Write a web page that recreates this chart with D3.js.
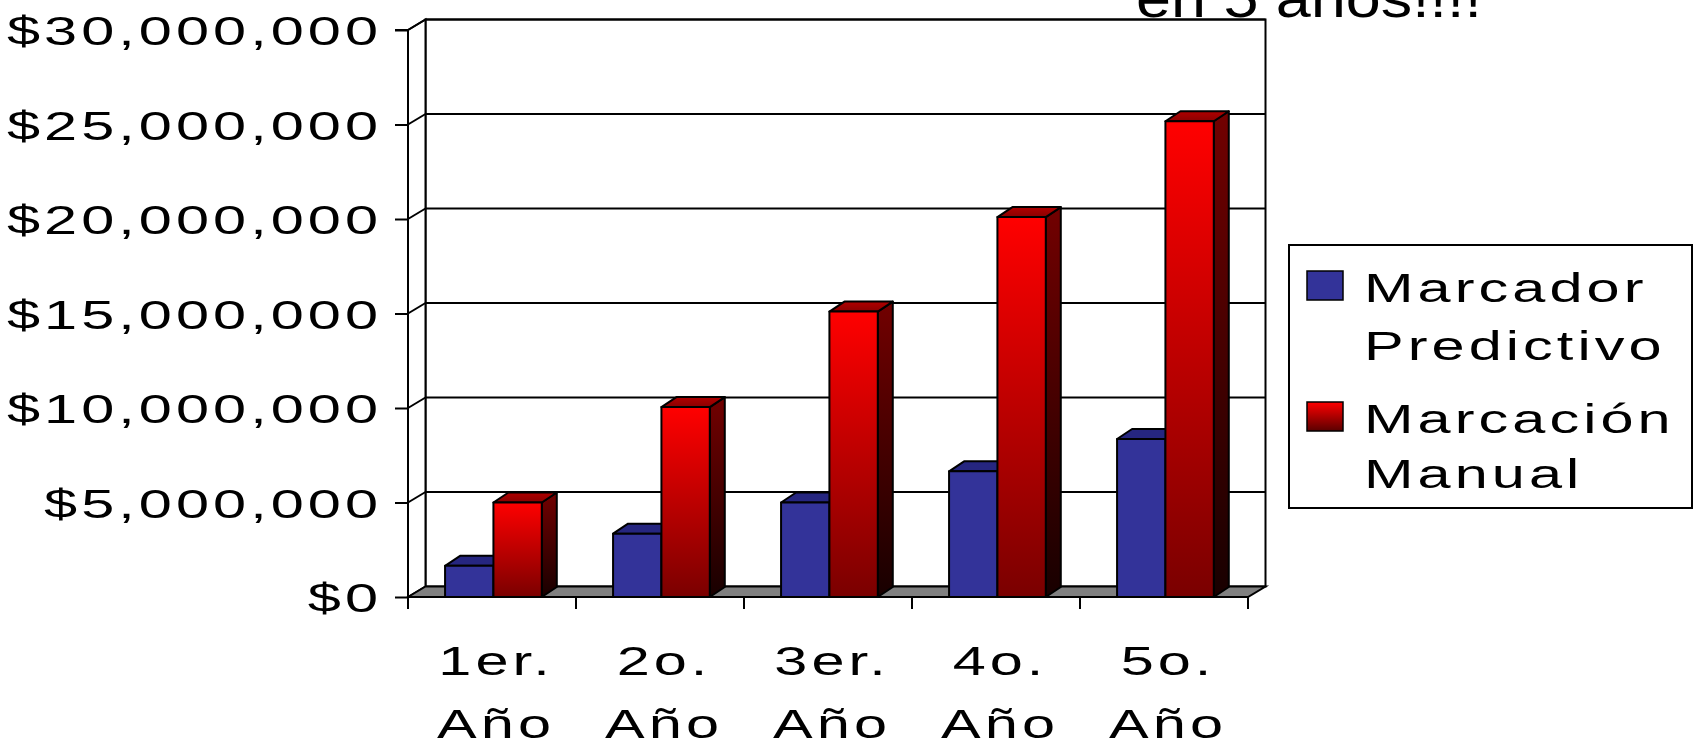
<!DOCTYPE html>
<html><head><meta charset="utf-8">
<script src="https://cdn.jsdelivr.net/npm/d3@7"></script>
<style>body{margin:0;background:#fff;overflow:hidden}svg{display:block}</style>
</head><body><svg id="c" width="1696" height="749"></svg>
<script>
// ---- data ----
const categories = ["1er. Año", "2o. Año", "3er. Año", "4o. Año", "5o. Año"];
const seriesNames = ["Marcador Predictivo", "Marcación Manual"];
const predictivo = [1650000, 3350000, 5000000, 6650000, 8360000];
const manual = [5000000, 10050000, 15100000, 20100000, 25170000];
const yTicks = [0, 5000000, 10000000, 15000000, 20000000, 25000000, 30000000];
const titleText = "en 5 años!!!!";

const svg = d3.select("#c");
const FONT = "'Liberation Sans', Arial, sans-serif";
const SX = 1.45, LS = 2.8, FS = 41;

// geometry
const y = d3.scaleLinear().domain([0, 30000000]).range([597, 30]);
const x0 = d3.scaleBand().domain(categories).range([408, 1248]).padding(0);
const x1 = d3.scaleBand().domain(seriesNames).range([0, x0.bandwidth()]).paddingInner(0).paddingOuter(0.737).align(0.52);
const WDX = 17.5, WDY = -10.5;   // wall depth
const BDX = 15, BDY = -10;       // bar depth

// gradients
const defs = svg.append("defs");
function grad(id, c1, c2) {
  const g = defs.append("linearGradient").attr("id", id).attr("x1", 0).attr("y1", 0).attr("x2", 0).attr("y2", 1);
  g.append("stop").attr("offset", "0%").attr("stop-color", c1);
  g.append("stop").attr("offset", "100%").attr("stop-color", c2);
}
grad("redFront", "#ff0000", "#7a0000");
grad("redSide", "#720000", "#180000");
grad("redTop", "#b00000", "#8a0000");
grad("redSwatch", "#ff0000", "#5a0000");

function stext(parent, x, yy, str, anchor, size, ls, sx) {
  size = size || FS; ls = (ls === undefined) ? LS : ls; sx = sx || SX;
  let comp = 0;
  if (anchor === "end") comp = ls; else if (anchor === "middle") comp = ls / 2;
  const g = parent.append("g").attr("transform", `translate(${x},${yy}) scale(${sx},1)`);
  g.append("text").attr("x", comp).attr("y", 0)
    .attr("text-anchor", anchor)
    .attr("font-family", FONT).attr("font-size", size)
    .attr("letter-spacing", ls).attr("fill", "#000").text(str);
  return g;
}

// title (cut off at top, as in the original)
svg.append("text").attr("x", 1136).attr("y", 17)
  .attr("font-family", FONT).attr("font-size", 54)
  .attr("textLength", 346).attr("lengthAdjust", "spacingAndGlyphs")
  .text(titleText);

const X0 = 408, X1 = 1248, Y0 = y(0), YT = y(30000000);

// back wall
svg.append("rect").attr("x", X0 + WDX).attr("y", YT + WDY)
  .attr("width", X1 - X0).attr("height", Y0 - YT)
  .attr("fill", "#fff").attr("stroke", "#000").attr("stroke-width", 2);
// left wall
svg.append("polygon")
  .attr("points", [[X0, YT], [X0 + WDX, YT + WDY], [X0 + WDX, Y0 + WDY], [X0, Y0]].map(p => p.join(",")).join(" "))
  .attr("fill", "#fff").attr("stroke", "#000").attr("stroke-width", 2);
// floor
svg.append("polygon")
  .attr("points", [[X0, Y0], [X0 + WDX, Y0 + WDY], [X1 + WDX, Y0 + WDY], [X1, Y0]].map(p => p.join(",")).join(" "))
  .attr("fill", "#808080").attr("stroke", "#000").attr("stroke-width", 2);

// gridlines
const grid = svg.append("g").attr("stroke", "#000").attr("stroke-width", 2).attr("fill", "none");
yTicks.filter(v => v > 0).forEach(v => {
  grid.append("line").attr("x1", X0 + WDX).attr("x2", X1 + WDX).attr("y1", y(v) + WDY).attr("y2", y(v) + WDY);
  grid.append("line").attr("x1", X0).attr("x2", X0 + WDX).attr("y1", y(v)).attr("y2", y(v) + WDY);
});

// y axis
const yAxis = d3.axisLeft(y).tickValues(yTicks).tickSize(13).tickFormat("");
const ya = svg.append("g").attr("transform", `translate(${X0},0)`).call(yAxis);
ya.selectAll("path,line").attr("stroke", "#000").attr("stroke-width", 2);
ya.select(".domain").attr("d", `M-13,${YT}H0V${Y0 + 12}`);
const fmt = d3.format("$,");
yTicks.forEach(v => stext(svg, 378, y(v) + 15, fmt(v), "end"));

// x axis
const xa = svg.append("g").attr("transform", `translate(0,${Y0})`)
  .call(d3.axisBottom(x0).tickSize(0).tickFormat(""));
xa.selectAll("path,line").attr("stroke", "#000").attr("stroke-width", 2);
xa.select(".domain").attr("d", `M${X0},0H${X1}`);
const bounds = categories.map(c => x0(c)).concat([X1]);
xa.selectAll(".bt").data(bounds).enter().append("line")
  .attr("x1", d => d).attr("x2", d => d).attr("y1", 0).attr("y2", 12)
  .attr("stroke", "#000").attr("stroke-width", 2);
categories.forEach(c => {
  const [a, b] = c.split(" ");
  const cx = x0(c) + x0.bandwidth() / 2 + 2;
  stext(svg, cx, 675, a, "middle");
  stext(svg, cx, 738, b, "middle");
});

// bars
const seriesData = [predictivo, manual];
const styles = [
  {front: "#333399", top: "#262680", side: "#1f1f66"},
  {front: "url(#redFront)", top: "url(#redTop)", side: "url(#redSide)"}
];
const bars = svg.append("g");
categories.forEach((c, i) => {
  seriesNames.forEach((s, k) => {
    const v = seriesData[k][i];
    const bx = x0(c) + x1(s), bw = x1.bandwidth(), by = y(v), bb = y(0);
    const st = styles[k];
    const g = bars.append("g").attr("stroke", "#000").attr("stroke-width", 2).attr("stroke-linejoin", "round");
    g.append("polygon").attr("points", [[bx + bw, by], [bx + bw + BDX, by + BDY], [bx + bw + BDX, bb + BDY], [bx + bw, bb]].map(p => p.join(",")).join(" "))
      .attr("fill", st.side);
    g.append("polygon").attr("points", [[bx, by], [bx + BDX, by + BDY], [bx + bw + BDX, by + BDY], [bx + bw, by]].map(p => p.join(",")).join(" "))
      .attr("fill", st.top);
    g.append("rect").attr("x", bx).attr("y", by).attr("width", bw).attr("height", bb - by)
      .attr("fill", st.front);
  });
});

// legend
const lg = svg.append("g");
lg.append("rect").attr("x", 1289).attr("y", 245).attr("width", 403).attr("height", 263)
  .attr("fill", "#fff").attr("stroke", "#000").attr("stroke-width", 2);
const swFill = ["#333399", "url(#redSwatch)"];
const swY = [271, 402];
const lines = [["Marcador", "Predictivo"], ["Marcación", "Manual"]];
const baseY = [[302, 359.5], [433, 488]];
seriesNames.forEach((s, k) => {
  lg.append("rect").attr("x", 1307).attr("y", swY[k]).attr("width", 36).attr("height", 29)
    .attr("fill", swFill[k]).attr("stroke", "#000").attr("stroke-width", 1.5);
  lines[k].forEach((t, j) => stext(lg, 1364, baseY[k][j], t, "start"));
});
</script>
</body></html>
